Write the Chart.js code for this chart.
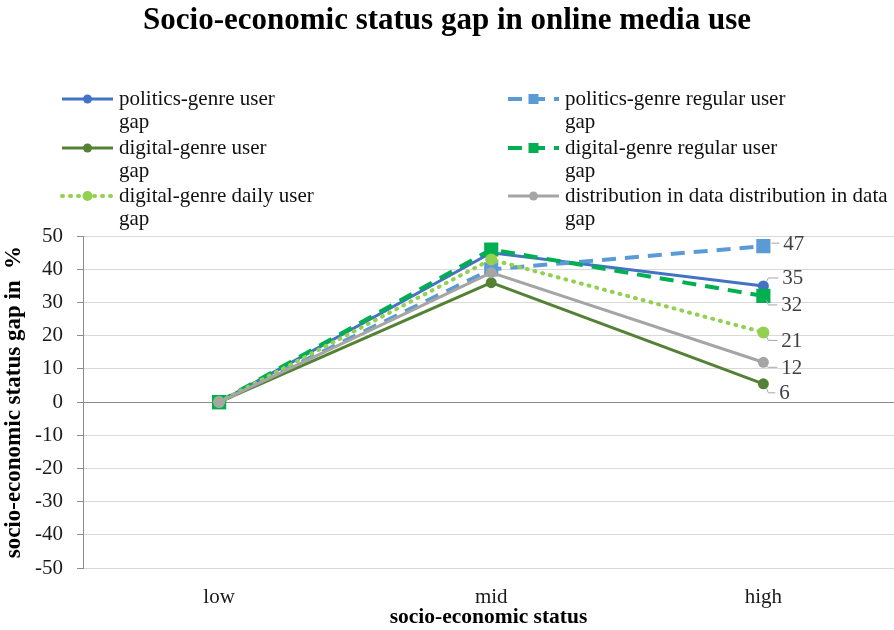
<!DOCTYPE html>
<html>
<head>
<meta charset="utf-8">
<script src="https://cdn.jsdelivr.net/npm/chart.js@4.4.0/dist/chart.umd.min.js"></script>
<style>
html,body{margin:0;padding:0;background:#fff;overflow:hidden;}
#wrap{width:894px;height:630px;position:relative;}
</style>
</head>
<body>
<div id="wrap"><canvas id="c" width="894" height="630"></canvas></div>
<script>
// ---- data ----
const categories = ["low", "mid", "high"];
const seriesNames = [
  "politics-genre user gap",
  "politics-genre regular user gap",
  "digital-genre user gap",
  "digital-genre regular user gap",
  "digital-genre daily user gap",
  "distribution in data distribution in data gap"
];
const politicsUser    = [0, 45, 35];
const politicsRegular = [0, 40, 47];
const digitalUser     = [0, 36, 5.5];
const digitalRegular  = [0, 46, 32];
const digitalDaily    = [0, 43, 21];
const distribution    = [0, 39, 12];
const yTicks = [-50, -40, -30, -20, -10, 0, 10, 20, 30, 40, 50];

const seriesValues = [politicsUser, politicsRegular, digitalUser, digitalRegular, digitalDaily, distribution];

// ---- styles ----
const styles = [
  {color:"#4472C4", dash:[], width:3, point:"circle", r:5.5, lr:4.5, label:{dx:19, dy:-8}},
  {color:"#5B9BD5", dash:[14,9], width:4, point:"rect", r:10, lr:5, label:{dx:20, dy:-3}},
  {color:"#548235", dash:[], width:3, point:"circle", r:5.5, lr:4.5, label:{dx:16, dy:9}},
  {color:"#00B050", dash:[14,9], width:4, point:"rect", r:10, lr:5, label:{dx:18, dy:9}},
  {color:"#92D050", dash:[1,7], width:4, point:"circle", r:6, lr:5, label:{dx:18, dy:8}},
  {color:"#A5A5A5", dash:[], width:3, point:"circle", r:5.5, lr:4.5, label:{dx:18, dy:5}}
];

const SERIF = "'Liberation Serif','Times New Roman',serif";

const datasets = seriesNames.map((name, i) => ({
  label: name,
  data: seriesValues[i].map((v, j) => ({x: j, y: v})),
  borderColor: styles[i].color,
  backgroundColor: styles[i].color,
  borderWidth: styles[i].width,
  borderDash: styles[i].dash,
  borderCapStyle: styles[i].dash.length && styles[i].dash[0] < 3 ? "round" : "butt",
  pointStyle: styles[i].point,
  pointRadius: styles[i].r,
  pointBorderWidth: 0,
  pointBackgroundColor: styles[i].color,
  tension: 0,
  order: seriesNames.length - i
}));

// custom legend + data labels
const extras = {
  id: "extras",
  afterDatasetsDraw(chart) {
    const ctx = chart.ctx;
    ctx.save();
    ctx.font = "21px " + SERIF;
    ctx.fillStyle = "#404040";
    ctx.textBaseline = "middle";
    ctx.textAlign = "left";
    chart.data.datasets.forEach((ds, i) => {
      const meta = chart.getDatasetMeta(i);
      const pt = meta.data[meta.data.length - 1];
      const v = seriesValues[i][seriesValues[i].length - 1];
      const st = styles[i].label;
      const lx = pt.x + st.dx, ly = pt.y + st.dy;
      ctx.strokeStyle = "#A6A6A6";
      ctx.lineWidth = 1;
      ctx.setLineDash([]);
      ctx.beginPath();
      if (Math.abs(st.dy) < 5) {
        ctx.moveTo(pt.x + 8, ly);
        ctx.lineTo(lx - 4, ly);
      } else {
        const s = Math.sign(st.dy);
        ctx.moveTo(pt.x + 3, pt.y + s * 4);
        ctx.lineTo(pt.x + 5, ly);
        ctx.lineTo(lx - 4, ly);
      }
      ctx.stroke();
      ctx.fillText(String(Math.round(v)), lx, ly + 1);
    });
    ctx.restore();
  },
  afterDraw(chart) {
    const ctx = chart.ctx;
    ctx.save();
    const colX = [62, 508];
    const rowY = [99, 148, 196];
    const lineH = 23;
    ctx.font = "21px " + SERIF;
    ctx.textBaseline = "middle";
    ctx.textAlign = "left";
    seriesNames.forEach((name, i) => {
      const col = i % 2, row = Math.floor(i / 2);
      const x0 = colX[col], y0 = rowY[row];
      const st = styles[i];
      ctx.strokeStyle = st.color;
      ctx.lineWidth = st.width;
      ctx.setLineDash(st.dash.length ? (st.dash[0] < 3 ? [1, 7] : [14, 9]) : []);
      ctx.lineCap = st.dash.length && st.dash[0] < 3 ? "round" : "butt";
      ctx.beginPath();
      ctx.moveTo(x0, y0);
      ctx.lineTo(x0 + 51, y0);
      ctx.stroke();
      ctx.setLineDash([]);
      ctx.fillStyle = st.color;
      const mx = x0 + 25.5;
      if (st.point === "rect") {
        ctx.fillRect(mx - st.lr, y0 - st.lr, st.lr * 2, st.lr * 2);
      } else {
        ctx.beginPath();
        ctx.arc(mx, y0, st.lr, 0, Math.PI * 2);
        ctx.fill();
      }
      const words = name.split(" ");
      const last = words.pop();
      ctx.fillStyle = "#111";
      ctx.fillText(words.join(" "), x0 + 57, y0);
      ctx.fillText(last, x0 + 57, y0 + lineH);
    });
    ctx.restore();
  }
};

new Chart(document.getElementById("c"), {
  type: "line",
  data: { datasets },
  plugins: [extras],
  options: {
    responsive: false,
    animation: false,
    layout: { padding: { left: 0, right: 0, top: 0, bottom: 0 }, autoPadding: false },
    plugins: {
      legend: { display: false },
      tooltip: { enabled: false },
      title: {
        display: true,
        text: "Socio-economic status gap in online media use",
        font: { family: SERIF, size: 31, weight: "bold" },
        color: "#000",
        padding: { top: 2, bottom: 197 }
      }
    },
    scales: {
      x: {
        type: "linear",
        min: -0.5,
        max: 2.48,
        afterBuildTicks(scale) {
          scale.ticks = categories.map((c, i) => ({ value: i }));
        },
        afterFit(scale) { scale.height = 62; scale.paddingLeft = 0; scale.paddingRight = 0; },
        ticks: {
          callback: (v) => categories[v] !== undefined ? categories[v] : "",
          font: { family: SERIF, size: 21 },
          color: "#1a1a1a",
          padding: 17,
          autoSkip: false,
          maxRotation: 0
        },
        grid: { display: false, drawTicks: false },
        border: { display: true, color: "#D9D9D9", width: 1 },
        title: {
          display: true,
          text: "socio-economic status",
          font: { family: SERIF, size: 21.5, weight: "bold" },
          color: "#000",
          padding: { top: 0, bottom: 0 }
        }
      },
      y: {
        min: -50,
        max: 50,
        afterBuildTicks(scale) {
          scale.ticks = yTicks.map(v => ({ value: v }));
        },
        afterFit(scale) { scale.width = 83; },
        ticks: {
          font: { family: SERIF, size: 21 },
          color: "#1a1a1a",
          padding: 14
        },
        grid: {
          color: (c) => c.tick && c.tick.value === 0 ? "#8C8C8C" : "#D9D9D9",
          tickColor: "#8C8C8C",
          tickLength: 6,
          lineWidth: 1
        },
        border: { display: true, color: "#8C8C8C", width: 1 },
        title: {
          display: true,
          text: "socio-economic status gap in  %",
          font: { family: SERIF, size: 23, weight: "bold" },
          color: "#000",
          padding: { top: 0, bottom: 0 }
        }
      }
    }
  }
});
</script>
</body>
</html>
